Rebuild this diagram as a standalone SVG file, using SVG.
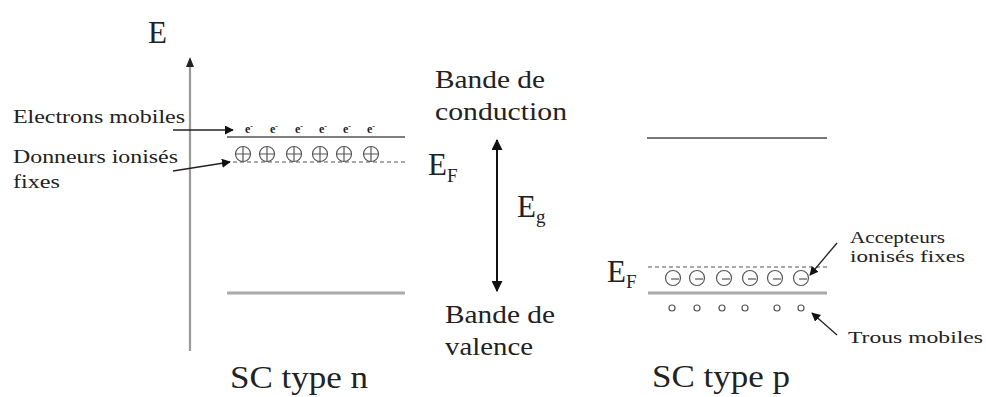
<svg xmlns="http://www.w3.org/2000/svg" width="986" height="397" viewBox="0 0 986 397" font-family="'Liberation Serif', 'Times New Roman', Times, serif">
<style>
text{font-family:'Liberation Serif','Times New Roman',Times,serif;fill:#222}
.big{font-size:31px}
.mid{font-size:25px}
.sm{font-size:19px}
.xs{font-size:17px}
.sub{font-size:19px}
.band{stroke:#555;stroke-width:1.6}
.bandp{stroke:#777;stroke-width:1.8}
.vband{stroke:#aaa;stroke-width:3}
.dash{stroke:#555;stroke-width:1.2;stroke-dasharray:4 3}
.arr{stroke:#222;stroke-width:1.3;fill:none}
.ion{fill:none;stroke:#555;stroke-width:1.2}
.hole{fill:none;stroke:#555;stroke-width:1.2}
.el{font-size:12px;font-weight:bold}
</style>
<defs>
<marker id="ah" viewBox="0 0 10 10" refX="9" refY="5" markerWidth="9" markerHeight="9" markerUnits="userSpaceOnUse" orient="auto"><path d="M0,0 L10,5 L0,10 z" fill="#111"/></marker>
<marker id="ahb" viewBox="0 0 10 10" refX="9" refY="5" markerWidth="11" markerHeight="11" markerUnits="userSpaceOnUse" orient="auto-start-reverse"><path d="M0,0 L10,5 L0,10 z" fill="#111"/></marker>
</defs>
<rect width="986" height="397" fill="#fff"/>

<g id="axis">
<line x1="190" y1="351" x2="190" y2="66" stroke="#999" stroke-width="2.2"/>
<path d="M190,57 L186,67 L194,67 z" fill="#222"/>
<text x="148" y="43" class="big">E</text>
</g>

<g id="n-type">
<line class="band" x1="227" y1="137" x2="405" y2="137"/>
<line class="dash" x1="233" y1="162" x2="405" y2="162"/>
<line class="vband" x1="227" y1="293" x2="405" y2="293"/>
<g id="electrons">
<text class="el" x="245" y="133">e<tspan dy="-4" font-size="8">-</tspan></text>
<text class="el" x="270" y="133">e<tspan dy="-4" font-size="8">-</tspan></text>
<text class="el" x="295" y="133">e<tspan dy="-4" font-size="8">-</tspan></text>
<text class="el" x="319" y="133">e<tspan dy="-4" font-size="8">-</tspan></text>
<text class="el" x="343" y="133">e<tspan dy="-4" font-size="8">-</tspan></text>
<text class="el" x="367" y="133">e<tspan dy="-4" font-size="8">-</tspan></text>
</g>
<g id="donors">
<g transform="translate(243,154)"><circle class="ion" r="7.5"/><path class="ion" d="M-7,0 H7 M0,-7 V7"/></g>
<g transform="translate(267,154)"><circle class="ion" r="7.5"/><path class="ion" d="M-7,0 H7 M0,-7 V7"/></g>
<g transform="translate(294,154)"><circle class="ion" r="7.5"/><path class="ion" d="M-7,0 H7 M0,-7 V7"/></g>
<g transform="translate(320,154)"><circle class="ion" r="7.5"/><path class="ion" d="M-7,0 H7 M0,-7 V7"/></g>
<g transform="translate(344,154)"><circle class="ion" r="7.5"/><path class="ion" d="M-7,0 H7 M0,-7 V7"/></g>
<g transform="translate(371,154)"><circle class="ion" r="7.5"/><path class="ion" d="M-7,0 H7 M0,-7 V7"/></g>
</g>
<text x="428" y="175" class="big">E<tspan class="sub" dy="7">F</tspan></text>
<text x="230" y="388" class="big" textLength="138" lengthAdjust="spacingAndGlyphs">SC type n</text>
</g>

<g id="label-electrons"><text x="13" y="123" class="sm" textLength="172" lengthAdjust="spacingAndGlyphs">Electrons mobiles</text></g>
<g id="label-donneurs">
<text x="13" y="163" class="sm" textLength="165" lengthAdjust="spacingAndGlyphs">Donneurs ionisés</text>
<text x="13" y="188" class="sm" textLength="47" lengthAdjust="spacingAndGlyphs">fixes</text>
</g>

<g id="gap">
<text x="435" y="88" class="mid" textLength="110" lengthAdjust="spacingAndGlyphs">Bande de</text>
<text x="435" y="120" class="mid" textLength="132" lengthAdjust="spacingAndGlyphs">conduction</text>
<text x="517" y="217" class="big">E<tspan class="sub" dy="6">g</tspan></text>
<text x="445" y="323" class="mid" textLength="110" lengthAdjust="spacingAndGlyphs">Bande de</text>
<text x="445" y="355" class="mid" textLength="88" lengthAdjust="spacingAndGlyphs">valence</text>
</g>

<g id="p-type">
<line class="bandp" x1="647" y1="138" x2="827" y2="138"/>
<line class="dash" x1="648" y1="267" x2="827" y2="267"/>
<line class="vband" x1="648" y1="293" x2="827" y2="293"/>
<g id="acceptors">
<g transform="translate(673,278)"><circle class="ion" r="7.5"/><path class="ion" d="M-2,1 H6"/></g>
<g transform="translate(697,278)"><circle class="ion" r="7.5"/><path class="ion" d="M-2,1 H6"/></g>
<g transform="translate(724,278)"><circle class="ion" r="7.5"/><path class="ion" d="M-2,1 H6"/></g>
<g transform="translate(750,278)"><circle class="ion" r="7.5"/><path class="ion" d="M-2,1 H6"/></g>
<g transform="translate(775,278)"><circle class="ion" r="7.5"/><path class="ion" d="M-2,1 H6"/></g>
<g transform="translate(801,278)"><circle class="ion" r="7.5"/><path class="ion" d="M-2,1 H6"/></g>
</g>
<g id="holes">
<circle class="hole" cx="672" cy="308" r="3"/>
<circle class="hole" cx="697" cy="308" r="3"/>
<circle class="hole" cx="722" cy="308" r="3"/>
<circle class="hole" cx="745" cy="308" r="3"/>
<circle class="hole" cx="777" cy="308" r="3"/>
<circle class="hole" cx="801" cy="308" r="3"/>
</g>
<text x="607" y="282" class="big">E<tspan class="sub" dy="6">F</tspan></text>
<text x="652" y="387" class="big" textLength="138" lengthAdjust="spacingAndGlyphs">SC type p</text>
</g>

<g id="label-accepteurs">
<text x="850" y="243" class="xs" textLength="95" lengthAdjust="spacingAndGlyphs">Accepteurs</text>
<text x="850" y="262" class="xs" textLength="115" lengthAdjust="spacingAndGlyphs">ionisés fixes</text>
</g>
<g id="label-trous"><text x="848" y="343" class="xs" textLength="135" lengthAdjust="spacingAndGlyphs">Trous mobiles</text></g>

<g id="connectors">
<line class="arr" x1="173" y1="130" x2="233" y2="130" marker-end="url(#ah)"/>
<line class="arr" x1="173" y1="171" x2="230" y2="162" marker-end="url(#ah)"/>
<line class="arr" x1="837" y1="243" x2="810" y2="275" marker-end="url(#ah)"/>
<line class="arr" x1="837" y1="335" x2="812" y2="313" marker-end="url(#ah)"/>
<line x1="497" y1="140" x2="497" y2="291" stroke="#111" stroke-width="2" marker-start="url(#ahb)" marker-end="url(#ahb)"/>
</g>
</svg>
